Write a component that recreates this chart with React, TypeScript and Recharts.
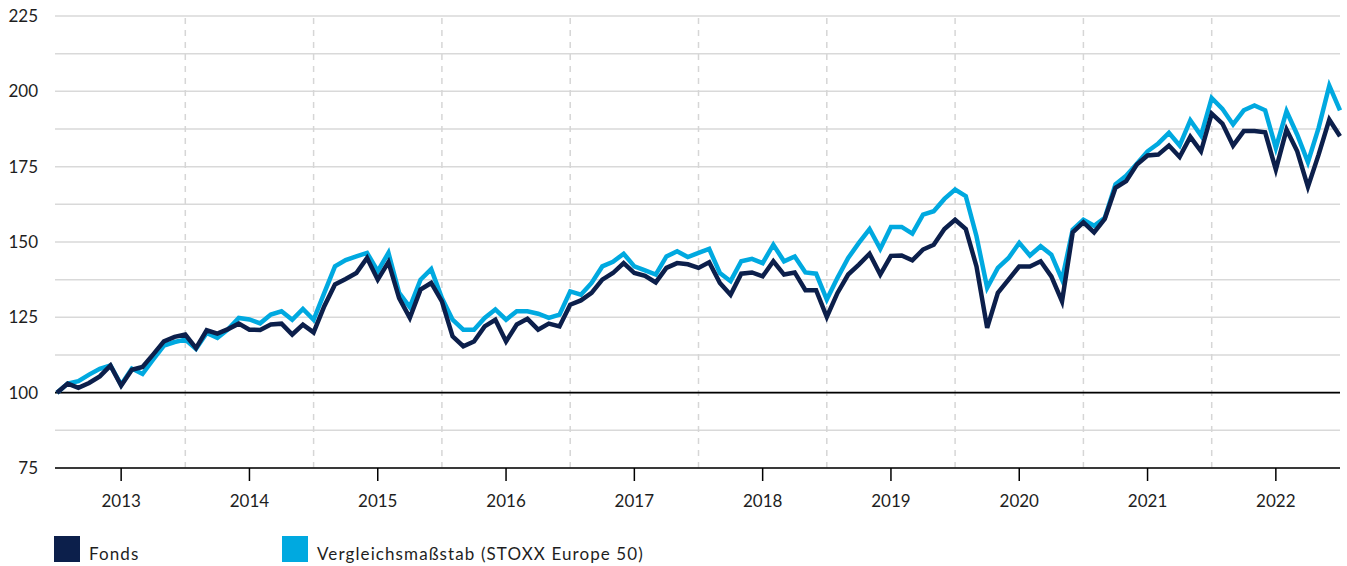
import React from "react";
import { LineChart, Line, XAxis, YAxis, CartesianGrid, ReferenceLine } from "recharts";

const fonds = [
  100, 103, 101.6, 103.2, 105.4, 109, 102.3, 107.6, 108.5, 112.7, 117, 118.5,
  119.3, 114.8, 120.7, 119.6, 121.1, 122.9, 120.9, 120.8, 122.6, 122.9, 119.3, 122.6,
  120, 128.7, 135.9, 137.7, 139.7, 144.7, 137.5, 143.3, 131.4, 124.8, 134.2, 136.4,
  130.3, 118.7, 115.4, 117, 122, 124.2, 117, 122.6, 124.5, 120.9, 122.9, 122,
  129.2, 130.6, 133.1, 137.5, 139.7, 143, 139.7, 138.8, 136.6, 141.4, 143, 142.6,
  141.4, 143.3, 136.4, 132.5, 139.5, 139.9, 138.6, 143.6, 139.2, 139.9, 134, 134,
  125.1, 133.1, 139.2, 142.5, 146.1, 139.2, 145.4, 145.5, 143.9, 147.5, 149.1, 154.3,
  157.4, 154.3, 141.9, 121.5, 133.1, 137.5, 141.9, 141.9, 143.6, 138.6, 130.3, 153.2,
  156.5, 153.2, 157.7, 168, 170.2, 175.7, 178.7, 179, 182, 178.2, 184.9, 180.1,
  192.6, 189.3, 182, 186.8, 186.8, 186.4, 174, 187.3, 180.1, 168.3, 179, 190.6,
  185.1,
];

const benchmark = [
  100, 103, 103.8, 106, 107.9, 109, 102.6, 108, 106.2, 111, 115.6, 116.8,
  117.6, 114.5, 119.8, 118.2, 121, 124.8, 124.3, 123, 125.9, 127, 124.2, 127.8,
  124.2, 133.1, 141.9, 144, 145.2, 146.4, 140.3, 146.4, 133.1, 128.4, 137.5, 141,
  131.4, 124.2, 120.9, 120.9, 124.8, 127.6, 124.2, 127, 127, 126.2, 124.8, 125.9,
  133.6, 132.5, 136.4, 141.9, 143.4, 146.1, 141.9, 140.6, 139.2, 145.2, 146.9, 145,
  146.4, 147.7, 139.7, 137, 143.6, 144.4, 143, 149.1, 143.6, 145.2, 139.9, 139.5,
  130.9, 138.1, 144.7, 149.7, 154.3, 147.7, 155, 155, 152.8, 159.1, 160.2, 164.3,
  167.4, 165.2, 151.9, 134.8, 141.4, 144.7, 149.7, 145.5, 148.6, 145.8, 137.5, 154.1,
  157.4, 155.4, 158, 169.1, 172, 176, 180.1, 182.7, 186.2, 182, 190.4, 185.3,
  197.8, 194.2, 189, 193.7, 195.3, 193.7, 181.2, 193.4, 185.6, 176.5, 187.9, 201.9,
  193.7,
];

const yearLabels = ["2013", "2014", "2015", "2016", "2017", "2018", "2019", "2020", "2021", "2022"];
const yearTicks = [6, 18, 30, 42, 54, 66, 78, 90, 102, 114];
const midYearLines = [12, 24, 36, 48, 60, 72, 84, 96, 108];
const yTicks = [75, 87.5, 100, 112.5, 125, 137.5, 150, 162.5, 175, 187.5, 200, 212.5, 225];
const seriesNames = ["Fonds", "Vergleichsmaßstab (STOXX Europe 50)"];
const seriesColors = ["#0c1f4b", "#00a9e0"];

const data = fonds.map((v, i) => ({ i, fonds: v, benchmark: benchmark[i] }));

const FONT = "Lato, 'Noto Sans', sans-serif";
const TEXT = "#1e1e1e";

export default function App() {
  return (
    <div style={{ position: "absolute", left: 0, top: 0, width: 1347, height: 566, overflow: "hidden", fontFamily: FONT }}>
      <LineChart width={1347} height={566} data={data} margin={{ top: 16, right: 7, left: 0, bottom: 0 }}>
        <CartesianGrid vertical={false} stroke="#d9d9d9" strokeWidth={1.5} />
        {midYearLines.map((x) => (
          <ReferenceLine key={x} x={x} stroke="#d6d6d6" strokeWidth={1.5} strokeDasharray="6 6" />
        ))}
        <XAxis
          type="number"
          dataKey="i"
          domain={[0, 120]}
          ticks={yearTicks}
          interval={0}
          tickFormatter={(v) => yearLabels[yearTicks.indexOf(v)] ?? ""}
          axisLine={{ stroke: "#000", strokeWidth: 1.5 }}
          tickLine={{ stroke: "#000", strokeWidth: 1.5 }}
          tickSize={13}
          tickMargin={14}
          height={98}
          padding={{ left: 2, right: 0 }}
          tick={{ fill: TEXT, fontSize: 17, fontFamily: FONT }}
        />
        <YAxis
          type="number"
          domain={[75, 225]}
          ticks={yTicks}
          interval={0}
          tickFormatter={(v) => (v % 25 === 0 ? String(v) : "")}
          axisLine={false}
          tickLine={false}
          tickSize={0}
          tickMargin={17}
          width={55}
          tick={{ fill: TEXT, fontSize: 17, fontFamily: FONT }}
        />
        <ReferenceLine y={100} stroke="#000" strokeWidth={1.8} />
        <Line dataKey="benchmark" stroke={seriesColors[1]} strokeWidth={4.5} dot={false} isAnimationActive={false} />
        <Line dataKey="fonds" stroke={seriesColors[0]} strokeWidth={4.5} dot={false} isAnimationActive={false} />
      </LineChart>
      {seriesNames.map((name, k) => (
        <div
          key={name}
          style={{
            position: "absolute",
            left: k === 0 ? 54 : 282,
            top: 536,
            height: 26,
            display: "flex",
            alignItems: "center",
            fontSize: 17,
            letterSpacing: 1.1,
            color: TEXT,
            whiteSpace: "nowrap",
          }}
        >
          <span style={{ display: "inline-block", width: 26, height: 26, background: seriesColors[k], marginRight: 9 }} />
          <span style={{ position: "relative", top: 4 }}>{name}</span>
        </div>
      ))}
    </div>
  );
}
